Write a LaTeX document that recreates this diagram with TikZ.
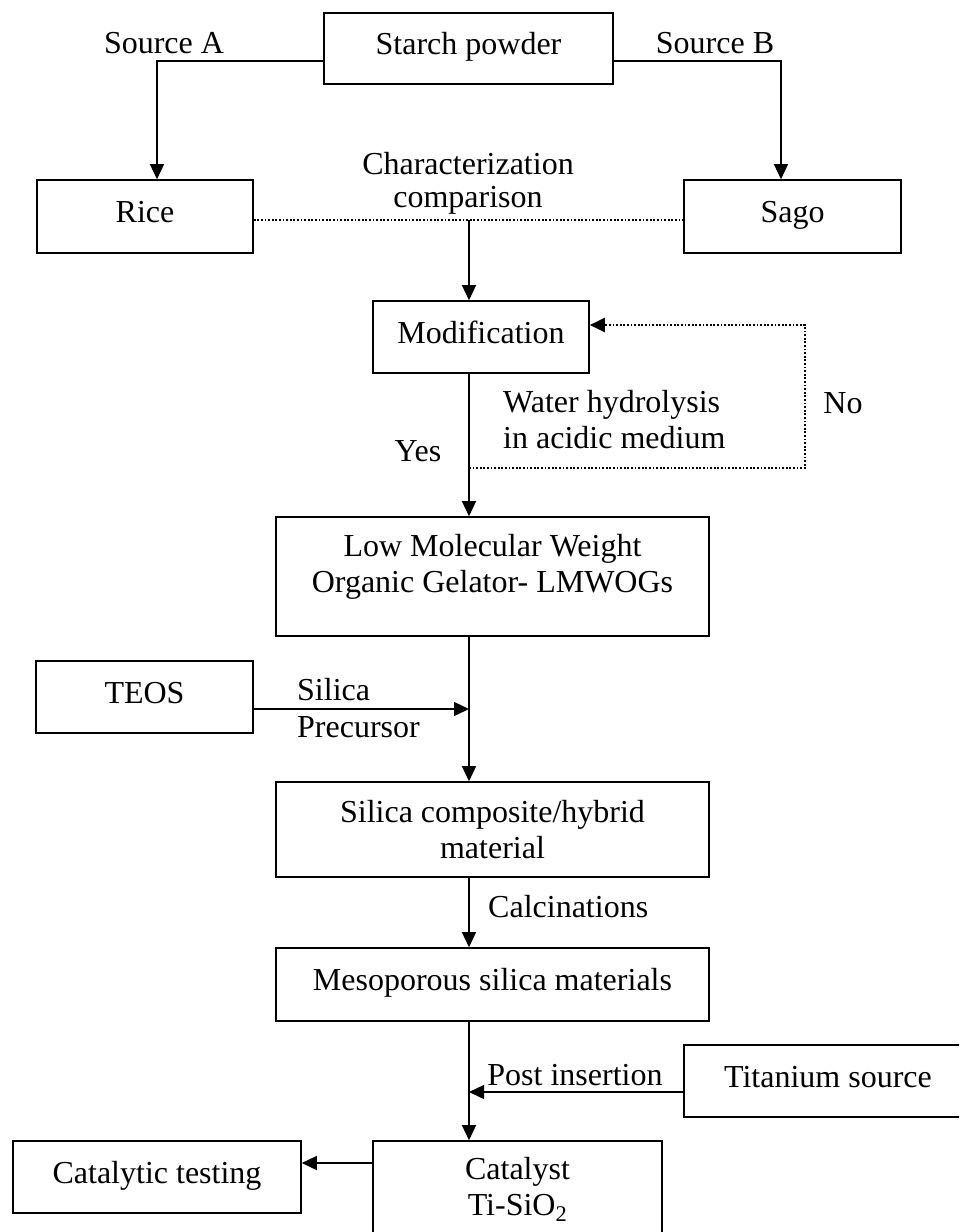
\documentclass[tikz,border=0pt]{standalone}
\usepackage{fontspec}
\setmainfont{Liberation Serif}
\usetikzlibrary{arrows.meta,calc}
\begin{document}
\begin{tikzpicture}[x=1pt,y=-1pt,
  txt/.style={font=\fontsize{32}{36}\selectfont},
  box/.style={txt,draw,line width=1.6pt,inner sep=0pt,align=center},
  sbox/.style={box,text height=19pt,text depth=7pt},
  lbl/.style={txt,inner sep=0pt,anchor=base},
  conn/.style={line width=1.4pt},
  arr/.style={conn,-{Triangle[length=15pt,width=14pt]}},
  dots/.style={line width=2pt,dash pattern=on 1.8pt off 1.8pt}]
\useasboundingbox (0,0) rectangle (959,1232);
\begin{scope}
\clip (0,0) rectangle (959,1232);
% boxes
\node[sbox,minimum width=289pt,minimum height=71pt] (starch) at (468.5,48.5) {Starch powder};
\node[sbox,minimum width=216pt,minimum height=73pt] (rice) at (145,216.5) {Rice};
\node[sbox,minimum width=217pt,minimum height=73pt] (sago) at (792.5,216.5) {Sago};
\node[sbox,minimum width=216pt,minimum height=72pt] (modif) at (481,337) {Modification};
\node[box,minimum width=433pt,minimum height=119pt] (lmwog) at (492.5,576.5) {Low Molecular Weight\\Organic Gelator- LMWOGs\\[-10pt]\mbox{}};
\node[sbox,minimum width=217pt,minimum height=72pt] (teos) at (144.5,697) {TEOS};
\node[box,minimum width=433pt,minimum height=95pt] (silica) at (492.5,829.5) {Silica composite/hybrid\\material};
\node[sbox,minimum width=433pt,minimum height=73pt] (meso) at (492.5,984.5) {Mesoporous silica materials};
\node[sbox,minimum width=288pt,minimum height=72pt] (titan) at (828,1081) {Titanium source};
\node[box,minimum width=289pt,minimum height=97pt] (cat) at (517.5,1189.5) {Catalyst\\Ti-SiO\textsubscript{2}};
\node[sbox,minimum width=288pt,minimum height=72pt] (ctest) at (157,1177) {Catalytic testing};
% labels
\node[lbl] (srcA) at (164,53) {Source A};
\node[lbl] (srcB) at (715,53) {Source B};
\node[txt,inner sep=0pt,anchor=north,align=center,font=\fontsize{32}{33}\selectfont] (charc) at (468,152) {Characterization\\comparison};
\node[txt,inner sep=0pt,anchor=north west,align=left] (water) at (503,390) {Water hydrolysis\\in acidic medium};
\node[lbl] (yes) at (418,461) {Yes};
\node[lbl] (no) at (843,413) {No};
\node[txt,inner sep=0pt,anchor=north west,align=left,font=\fontsize{32}{37}\selectfont] (silp) at (297,678) {Silica\\Precursor};
\node[lbl,anchor=base west] (calc) at (488,917) {Calcinations};
\node[lbl] (post) at (575,1085) {Post insertion};
% coordinates
\coordinate (j) at (469,220);
\coordinate (n1) at (469,468);
\coordinate (nc) at (805,325);
\coordinate (t1) at (469,709);
\coordinate (p1) at (469,1092);
\coordinate (c1) at (373,1163);
% connectors
\draw[arr] ([yshift=-12.5pt]starch.west) -| ([xshift=12pt]rice.north);
\draw[arr] ([yshift=-12.5pt]starch.east) -| ([xshift=-11.5pt]sago.north);
\draw[dots] ([yshift=-3.5pt]rice.east) -- ([yshift=-3.5pt]sago.west);
\draw[arr] (j) -- (j |- modif.north);
\draw[arr] (j |- modif.south) -- (j |- lmwog.north);
\draw[dots,-{Triangle[length=15pt,width=14pt]}] (n1) -| (nc) -- (nc -| modif.east);
\draw[conn] (j |- lmwog.south) -- (t1);
\draw[arr] (t1) -- (j |- silica.north);
\draw[arr] ([yshift=-12pt]teos.east) -- (t1);
\draw[arr] (j |- silica.south) -- (j |- meso.north);
\draw[conn] (j |- meso.south) -- (p1);
\draw[arr] (p1) -- (j |- cat.north);
\draw[arr] ([yshift=-11pt]titan.west) -- (p1);
\draw[arr] (c1) -- (c1 -| ctest.east);
\end{scope}
\end{tikzpicture}
\end{document}
